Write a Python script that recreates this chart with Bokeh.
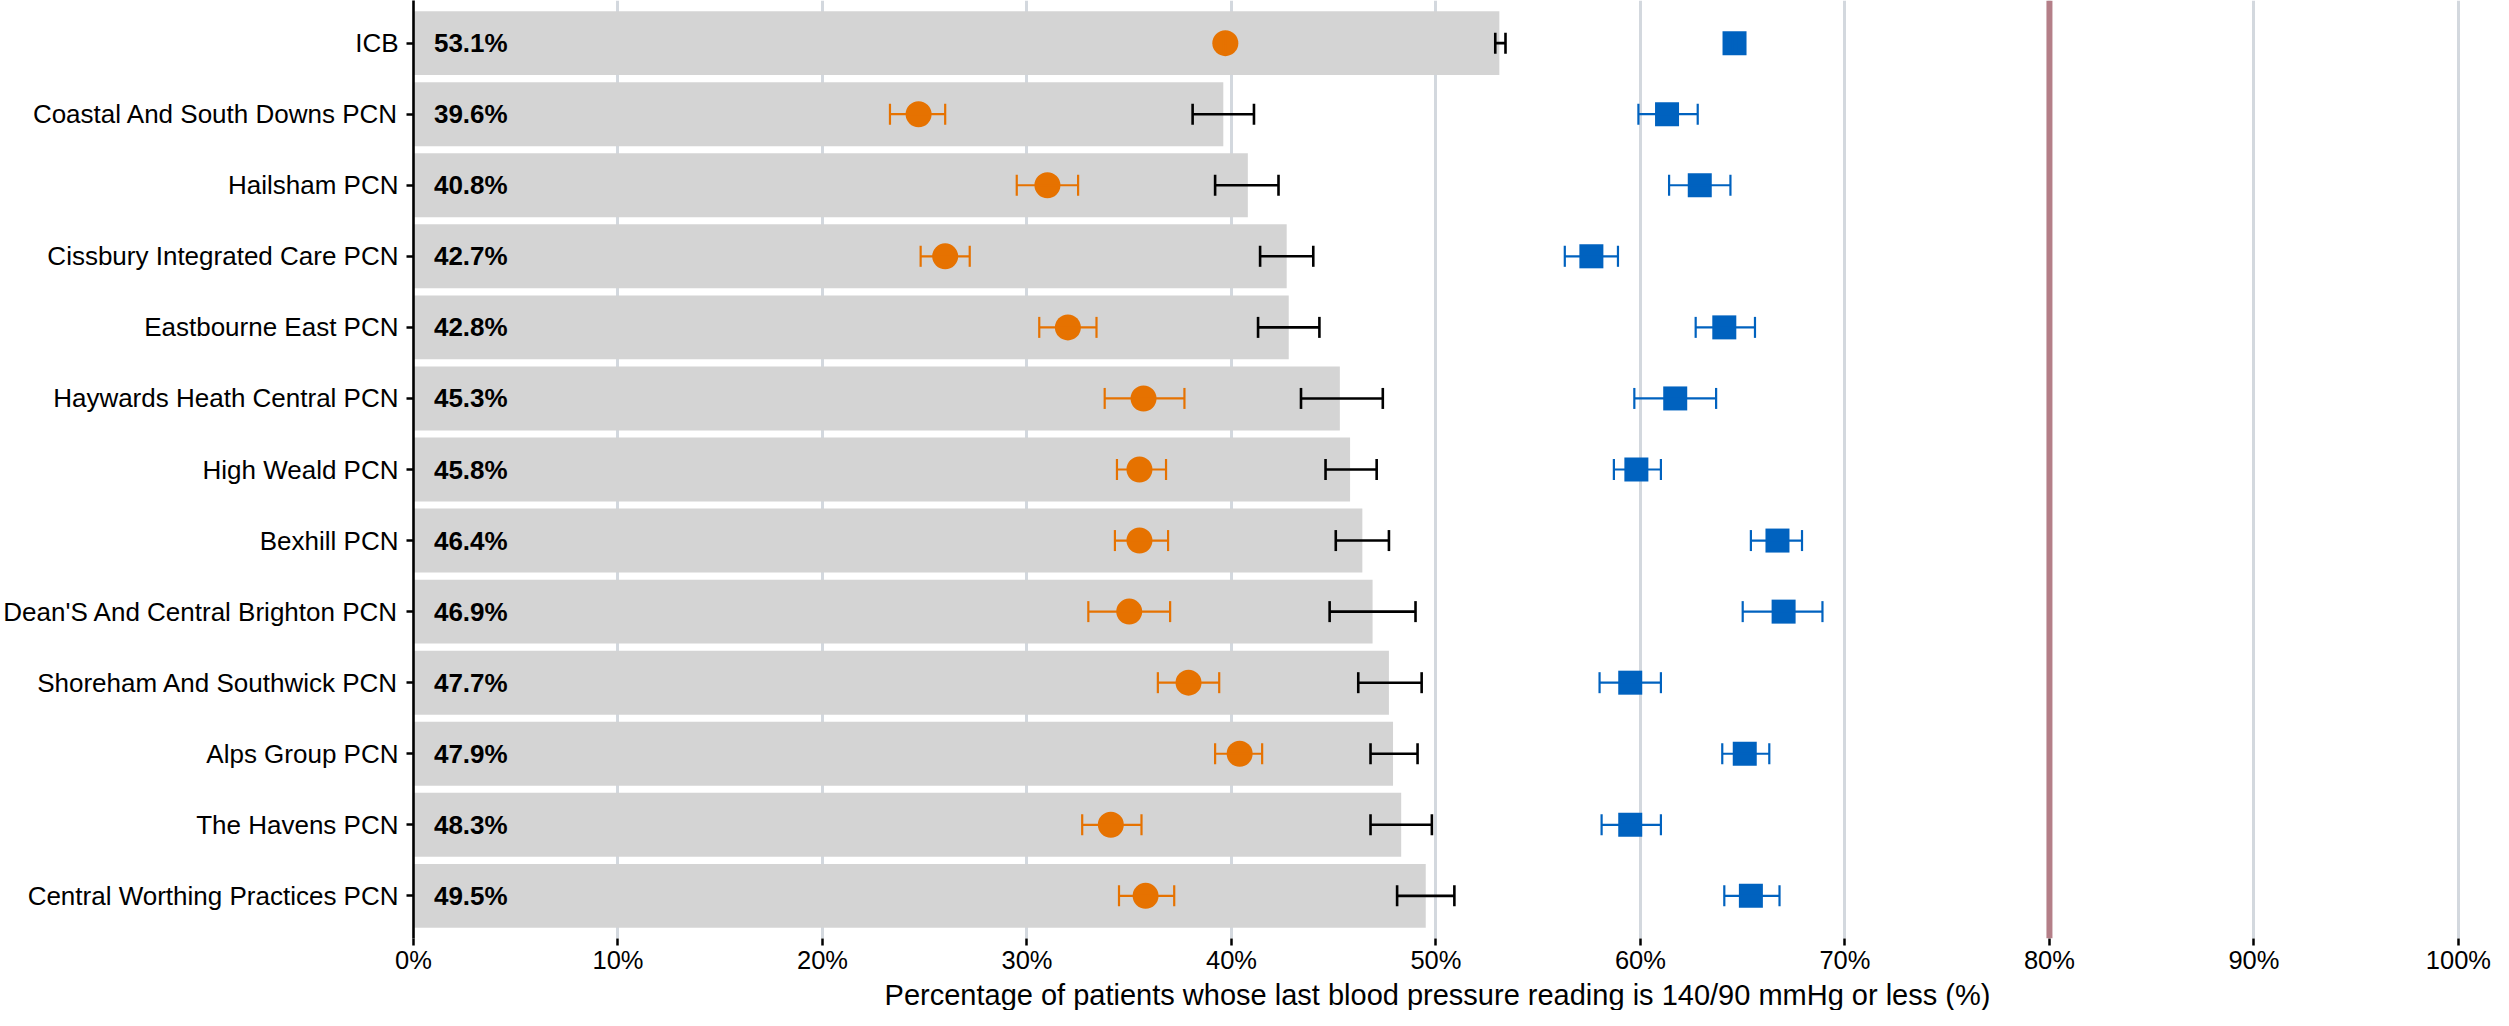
from bokeh.plotting import figure
from bokeh.models import ColumnDataSource, FactorRange, Range1d, Whisker, TeeHead, Span, FixedTicker, Title
from bokeh.core.properties import value
from bokeh.embed import file_html
from bokeh.resources import INLINE

categories = ["ICB", "Coastal And South Downs PCN", "Hailsham PCN", "Cissbury Integrated Care PCN",
              "Eastbourne East PCN", "Haywards Heath Central PCN", "High Weald PCN", "Bexhill PCN",
              "Dean'S And Central Brighton PCN", "Shoreham And Southwick PCN", "Alps Group PCN",
              "The Havens PCN", "Central Worthing Practices PCN"]
bar_values = [53.1, 39.6, 40.8, 42.7, 42.8, 45.3, 45.8, 46.4, 46.9, 47.7, 47.9, 48.3, 49.5]
bar_lower = [52.9, 38.1, 39.2, 41.4, 41.3, 43.4, 44.6, 45.1, 44.8, 46.2, 46.8, 46.8, 48.1]
bar_upper = [53.4, 41.1, 42.3, 44.0, 44.3, 47.4, 47.1, 47.7, 49.0, 49.3, 49.1, 49.8, 50.9]
orange_values = [39.7, 24.7, 31.0, 26.0, 32.0, 35.7, 35.5, 35.5, 35.0, 37.9, 40.4, 34.1, 35.8]
orange_lower = [39.6, 23.3, 29.5, 24.8, 30.6, 33.8, 34.4, 34.3, 33.0, 36.4, 39.2, 32.7, 34.5]
orange_upper = [39.8, 26.0, 32.5, 27.2, 33.4, 37.7, 36.8, 36.9, 37.0, 39.4, 41.5, 35.6, 37.2]
blue_values = [64.6, 61.3, 62.9, 57.6, 64.1, 61.7, 59.8, 66.7, 67.0, 59.5, 65.1, 59.5, 65.4]
blue_lower = [64.5, 59.9, 61.4, 56.3, 62.7, 59.7, 58.7, 65.4, 65.0, 58.0, 64.0, 58.1, 64.1]
blue_upper = [64.7, 62.8, 64.4, 58.9, 65.6, 63.7, 61.0, 67.9, 68.9, 61.0, 66.3, 61.0, 66.8]
target = 80
x_ticks = [0, 10, 20, 30, 40, 50, 60, 70, 80, 90, 100]
x_tick_labels = ["0%", "10%", "20%", "30%", "40%", "50%", "60%", "70%", "80%", "90%", "100%"]
x_title = "Percentage of patients whose last blood pressure reading is 140/90 mmHg or less (%)"

FONT = "Liberation Sans"
GREY_BAR = "#D4D4D4"
GRID = "#D3D8DE"
ORANGE = "#E67200"
BLUE = "#0062BF"
TARGET = "#B47F88"

src = ColumnDataSource(dict(
    cat=categories, bar=bar_values, blo=bar_lower, bhi=bar_upper,
    o=orange_values, olo=orange_lower, ohi=orange_upper,
    b=blue_values, bbl=blue_lower, bbh=blue_upper,
    label=[f"{v:.1f}%" for v in bar_values],
    lx=[1.0] * len(categories),
))

p = figure(width=2493, height=1010, output_backend="svg", toolbar_location=None,
           y_range=FactorRange(factors=list(reversed(categories)), range_padding=0.1,
                               range_padding_units="absolute"),
           x_range=Range1d(0, 100.15),
           min_border_left=400, min_border_right=32, min_border_top=0, min_border_bottom=0)
p.outline_line_color = None
p.background_fill_color = "white"

# grid
p.ygrid.grid_line_color = None
p.xgrid.grid_line_color = GRID
p.xgrid.grid_line_width = 3
p.xgrid.ticker = FixedTicker(ticks=x_ticks)

# bars
p.hbar(y="cat", right="bar", left=0, height=0.9, source=src, fill_color=GREY_BAR, line_color=None)

# target line
p.add_layout(Span(location=target, dimension="height", line_color=TARGET, line_width=6))

# markers
p.scatter(x="o", y="cat", source=src, marker="circle", size=26, fill_color=ORANGE, line_color=None)
p.scatter(x="b", y="cat", source=src, marker="square", size=24, fill_color=BLUE, line_color=None)

# error bars
for lo, hi, col, lw in [("blo", "bhi", "black", 2.6), ("olo", "ohi", ORANGE, 2.2), ("bbl", "bbh", BLUE, 2.2)]:
    w = Whisker(source=src, base="cat", lower=lo, upper=hi, dimension="width",
                line_color=col, line_width=lw, level="annotation",
                lower_head=TeeHead(size=21, line_color=col, line_width=lw),
                upper_head=TeeHead(size=21, line_color=col, line_width=lw))
    p.add_layout(w)

# value labels
p.text(x="lx", y="cat", text="label", source=src, text_font=value(FONT), text_font_style="bold",
       text_font_size="26px", text_align="left", text_baseline="middle", text_color="black")

# x axis
xa = p.xaxis[0]
xa.ticker = FixedTicker(ticks=x_ticks)
xa.major_label_overrides = {t: l for t, l in zip(x_ticks, x_tick_labels)}
xa.axis_line_color = None
xa.major_tick_line_color = "black"
xa.major_tick_line_width = 2.5
xa.major_tick_out = 7
xa.major_tick_in = 0
xa.minor_tick_line_color = None
xa.major_label_text_font = FONT
xa.major_label_text_font_size = "25.5px"
xa.major_label_text_color = "black"
xa.major_label_standoff = 0

# x axis title as a title in the below panel
p.add_layout(Title(text=x_title, align="center", text_font=FONT, text_font_size="29px",
                   text_font_style="normal", text_color="black", standoff=0, offset=0), "below")

# y axis
ya = p.yaxis[0]
ya.axis_line_color = "black"
ya.axis_line_width = 2.6
ya.major_tick_line_color = "black"
ya.major_tick_line_width = 2.5
ya.major_tick_out = 7
ya.major_tick_in = 0
ya.minor_tick_line_color = None
ya.major_label_text_font = FONT
ya.major_label_text_font_size = "26px"
ya.major_label_text_color = "black"
ya.major_label_standoff = 8

open("out.html", "w").write(file_html(p, INLINE))
